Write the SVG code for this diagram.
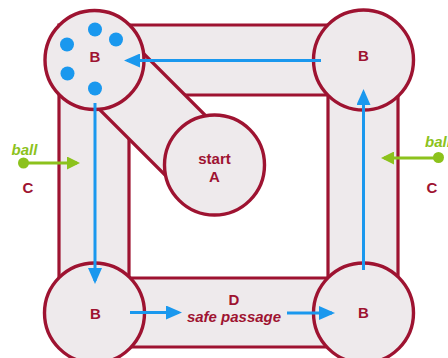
<svg xmlns="http://www.w3.org/2000/svg" width="448" height="358" viewBox="0 0 448 358">
<defs>
<style>
.wall{fill:#eeeaec;stroke:#9e1331;stroke-width:3.2;}
.node{fill:#eeeaec;stroke:#9e1331;stroke-width:3.4;}
.lbl{font-family:"Liberation Sans",Arial,sans-serif;font-weight:bold;font-size:15px;fill:#9e1331;text-anchor:middle;}
.it{font-style:italic;}
.ball{font-family:"Liberation Sans",Arial,sans-serif;font-weight:bold;font-style:italic;font-size:15px;fill:#8cc21c;}
.blue{stroke:#1a98ee;stroke-width:3;fill:none;marker-end:url(#ab);}
.green{stroke:#8cc21c;stroke-width:3;fill:none;marker-end:url(#ag);}
.dot{fill:#1a98ee;}
</style>
<marker id="ab" markerUnits="userSpaceOnUse" markerWidth="16" markerHeight="14" refX="13" refY="7" orient="auto">
<path d="M0,0 L16,7 L0,14 Z" fill="#1a98ee"/>
</marker>
<marker id="ag" markerUnits="userSpaceOnUse" markerWidth="13" markerHeight="13" refX="10" refY="6.5" orient="auto">
<path d="M0,0 L13,6.5 L0,13 Z" fill="#8cc21c"/>
</marker>
</defs>
<rect width="448" height="358" fill="#ffffff"/>
<g id="corridors">
<path class="wall" fill-rule="evenodd" d="M59,25 H398 V347 H59 Z M129,95 H328 V278 H129 Z"/>
<polygon class="wall" points="110,20 250,160 200,210 60,70"/>
</g>
<g id="node-B-tl">
<circle class="node" cx="94.5" cy="60" r="49.5"/>
<circle class="dot" cx="95" cy="29.5" r="7"/>
<circle class="dot" cx="116" cy="39.5" r="7"/>
<circle class="dot" cx="67" cy="44.5" r="7"/>
<circle class="dot" cx="67.5" cy="73.5" r="7"/>
<circle class="dot" cx="95" cy="88.5" r="7"/>
<text class="lbl" x="95" y="62">B</text>
</g>
<g id="node-B-tr">
<circle class="node" cx="363.5" cy="60" r="50"/>
<text class="lbl" x="363.5" y="60.5">B</text>
</g>
<g id="node-B-bl">
<circle class="node" cx="94.5" cy="313" r="50"/>
<text class="lbl" x="95.5" y="318.5">B</text>
</g>
<g id="node-B-br">
<circle class="node" cx="363.5" cy="313" r="50"/>
<text class="lbl" x="363.5" y="318">B</text>
</g>
<g id="node-A">
<circle class="node" cx="214.5" cy="165" r="50"/>
<text class="lbl" x="214.5" y="164">start</text>
<text class="lbl" x="214.5" y="181.5">A</text>
</g>
<g id="node-D">
<text class="lbl" x="234" y="305">D</text>
<text class="lbl it" x="234" y="321.5">safe passage</text>
</g>
<g id="node-C-left">
<text class="ball" x="11.5" y="155">ball</text>
<circle cx="23.5" cy="163" r="5.5" fill="#8cc21c"/>
<text class="lbl" x="28" y="193">C</text>
</g>
<g id="node-C-right">
<text class="ball" x="425" y="147">ball</text>
<circle cx="438.5" cy="157.5" r="5.5" fill="#8cc21c"/>
<text class="lbl" x="432" y="193">C</text>
</g>
<g id="connectors">
<line class="blue" x1="321" y1="60.5" x2="127" y2="60.5"/>
<line class="blue" x1="95" y1="103" x2="95" y2="281"/>
<line class="blue" x1="130" y1="312.5" x2="179" y2="312.5"/>
<line class="blue" x1="287" y1="313" x2="332" y2="313"/>
<line class="blue" x1="363.5" y1="270" x2="363.5" y2="92"/>
<line class="green" x1="23.5" y1="163" x2="77" y2="163"/>
<line class="green" x1="438.5" y1="158" x2="384" y2="158"/>
</g>
</svg>
